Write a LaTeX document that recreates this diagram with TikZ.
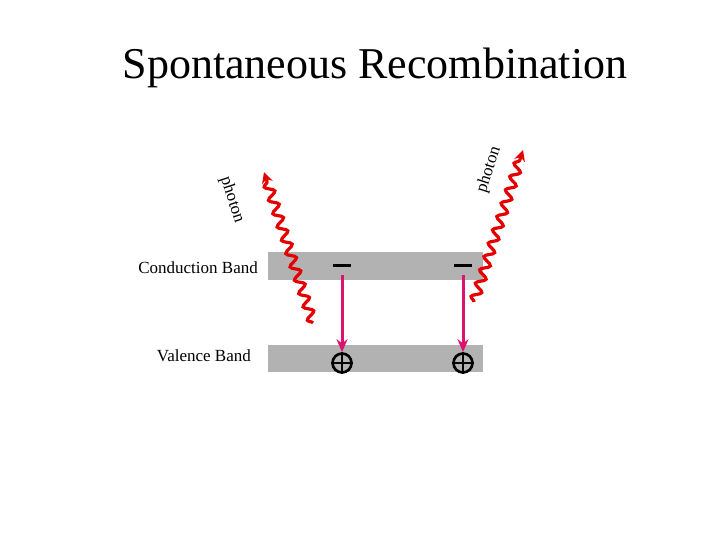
\documentclass[tikz,border=0pt]{standalone}
\usepackage{fontspec}
\setmainfont{Liberation Serif}
\usetikzlibrary{decorations.pathmorphing,arrows.meta}
\begin{document}
\begin{tikzpicture}[x=1pt,y=-1pt,
  band/.style={fill=black!30,draw=none},
  photon/.style={red!90!black,line width=3.2pt,decorate,decoration={snake,amplitude=4.5pt,segment length=14pt,post length=9pt},-{Stealth[length=11pt,width=11pt]}},
  trans/.style={draw={rgb,255:red,220;green,20;blue,110},line width=3pt,-{Stealth[length=13pt,width=11pt]}},
  lbl/.style={font=\fontsize{17}{20}\selectfont}]
\useasboundingbox (0,0) rectangle (720,540);
\node (title) at (375,68) {\fontsize{44}{50}\selectfont Spontaneous Recombination};
\fill[band] (268,252) rectangle (483,280);
\fill[band] (268,345) rectangle (483,372);
\node[lbl,anchor=east,inner sep=1pt] (cb) at (259,268) {Conduction Band};
\node[lbl,anchor=east,inner sep=1pt] (vb) at (252,356) {Valence Band};
\foreach \x/\n in {342/a,463/b}{
  \draw[line width=3pt] (\x-9,265) -- (\x+9,265);
  \coordinate (s\n) at (\x,275);
  \node[circle,draw,line width=2.6pt,minimum size=19pt,inner sep=0] (h\n) at (\x,363) {};
  \draw[line width=2.6pt] (h\n.north) -- (h\n.south) (h\n.west) -- (h\n.east);
  \draw[trans] (s\n) -- (h\n.north);
}
\coordinate (l0) at (313,323); \coordinate (l1) at (264,172);
\coordinate (r0) at (474,302); \coordinate (r1) at (523,150);
\draw[photon] (l0) -- (l1);
\draw[photon] (r0) -- (r1);
\node[lbl,rotate=-72] (pl) at (232,200) {photon};
\node[lbl,rotate=72] (pr) at (489,170) {photon};
\end{tikzpicture}
\end{document}
